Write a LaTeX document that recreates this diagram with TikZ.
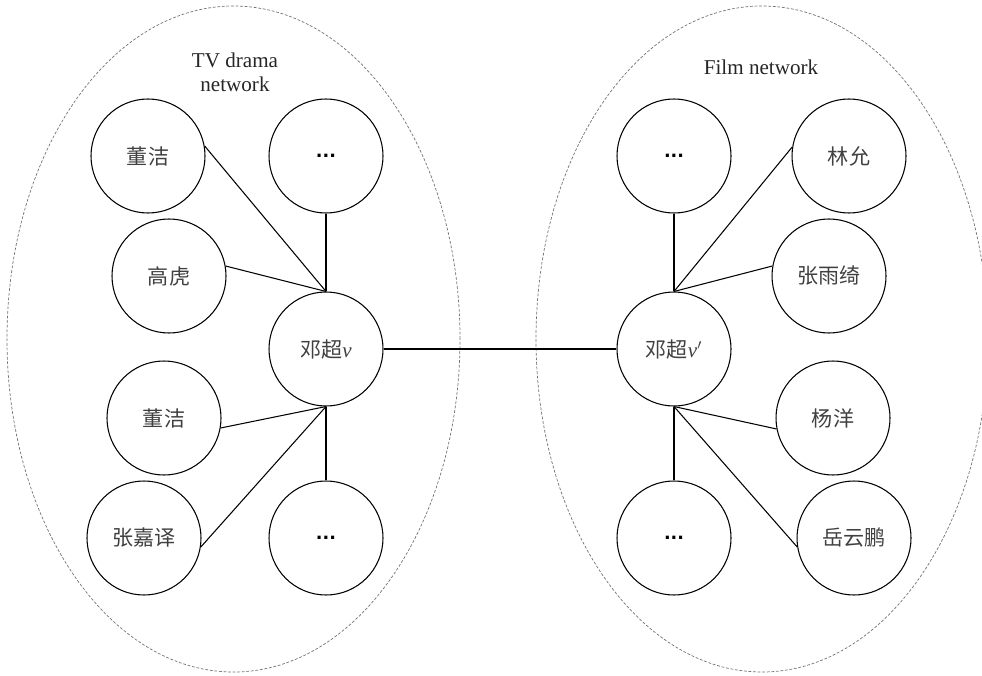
\documentclass[tikz,border=0pt]{standalone}
\usepackage{fontspec}
\setmainfont{Liberation Serif}
\newfontfamily\cjk{Noto Sans CJK SC}
\newfontfamily\dotfont{DejaVu Sans}
\usepackage{xcolor}
\usepackage{tikz}
\usetikzlibrary{shapes,arrows.meta}

\newcommand{\vnode}{\textrm{\textit{v}}}
\newcommand{\moredots}{{\dotfont\bfseries\fontsize{10}{12}\selectfont\color{black}...}}

\begin{document}
\begin{tikzpicture}[
  actor/.style={circle,draw,line width=0.6pt,minimum size=2.28cm,inner sep=0pt,
    text=black!75,font=\cjk\fontsize{12}{14}\selectfont},
  netzone/.style={draw=black!55,line width=0.4pt,dash pattern=on 1.6pt off 1pt},
  tie/.style={line width=0.6pt}]
\useasboundingbox (0,0) rectangle (19.64,13.5);
% two networks
\draw[netzone] (4.67,6.72) ellipse (4.53 and 6.66);
\draw[netzone] (15.24,6.72) ellipse (4.52 and 6.66);
\node[align=center,font=\fontsize{12}{13.8}\selectfont,text=black!85] (tvlabel) at (4.70,12.06) {TV drama\\network};
\node[font=\fontsize{12}{14}\selectfont,text=black!85] (filmlabel) at (15.22,12.16) {Film network};
% TV drama side
\node[actor] (hubL) at (6.52,6.52) {邓超\vnode};
\node[actor] (dongA) at (2.96,10.38) {董洁};
\node[actor] (moreLa) at (6.52,10.38) {\moredots};
\node[actor] (gaohu) at (3.38,7.98) {高虎};
\node[actor] (dongB) at (3.28,5.14) {董洁};
\node[actor] (zhangjy) at (2.88,2.74) {张嘉译};
\node[actor] (moreLb) at (6.52,2.74) {\moredots};
% film side
\node[actor] (hubR) at (13.48,6.52) {邓超\vnode$'$};
\node[actor] (moreRa) at (13.48,10.38) {\moredots};
\node[actor] (linyun) at (16.98,10.38) {林允};
\node[actor] (zhangyq) at (16.58,7.98) {张雨绮};
\node[actor] (yangy) at (16.66,5.14) {杨洋};
\node[actor] (moreRb) at (13.48,2.74) {\moredots};
\node[actor] (yueyp) at (17.08,2.74) {岳云鹏};
% edges
\draw[tie] (dongA.10)--(hubL.north);
\draw[tie] (gaohu.10)--(hubL.north);
\draw[tie] (moreLa.south)--(hubL.north);
\draw[tie] (dongB.350)--(hubL.south);
\draw[tie] (zhangjy.351)--(hubL.south);
\draw[tie] (moreLb.north)--(hubL.south);
\draw[tie] (linyun.171)--(hubR.north);
\draw[tie] (zhangyq.170)--(hubR.north);
\draw[tie] (moreRa.south)--(hubR.north);
\draw[tie] (yangy.191)--(hubR.south);
\draw[tie] (yueyp.189)--(hubR.south);
\draw[tie] (moreRb.north)--(hubR.south);
\draw[line width=1pt] (hubL.east)--(hubR.west);
\end{tikzpicture}
\end{document}
